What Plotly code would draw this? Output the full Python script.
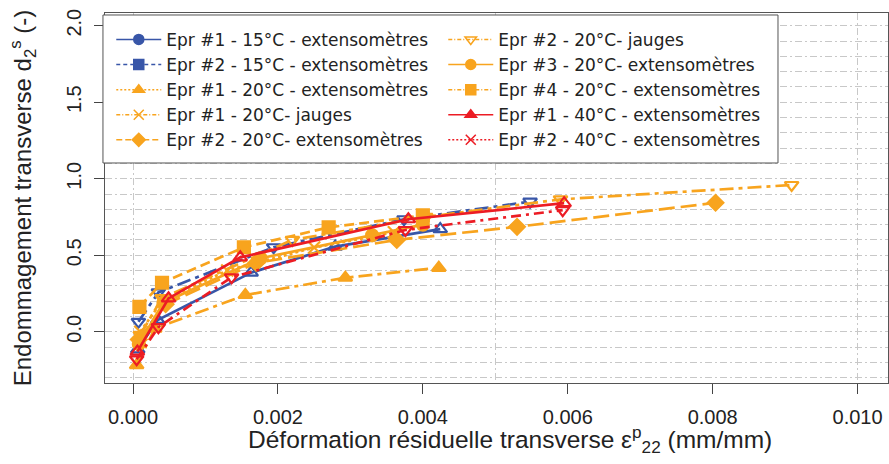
import plotly.graph_objects as go

# ---------------- data ----------------
names = [
    "Epr #1 - 15°C - extensomètres",
    "Epr #2 - 15°C - extensomètres",
    "Epr #1 - 20°C - extensomètres",
    "Epr #1 - 20°C- jauges",
    "Epr #2 - 20°C- extensomètres",
    "Epr #2 - 20°C- jauges",
    "Epr #3 - 20°C- extensomètres",
    "Epr #4 - 20°C - extensomètres",
    "Epr #1 - 40°C - extensomètres",
    "Epr #2 - 40°C - extensomètres",
]

x_15_1 = [0.000065, 0.00034, 0.00163, 0.00279, 0.00424]
y_15_1 = [-0.115, 0.077, 0.386, 0.556, 0.671]

x_15_2 = [0.000074, 0.00035, 0.00194, 0.00374, 0.00548]
y_15_2 = [0.065, 0.257, 0.552, 0.735, 0.850]

x_20_1e = [0.00005, 0.00030, 0.00155, 0.00293, 0.00422]
y_20_1e = [-0.218, 0.020, 0.240, 0.353, 0.418]

x_20_1j = [0.00010, 0.00040, 0.00130, 0.00250, 0.00360]
y_20_1j = [0.000, 0.200, 0.400, 0.550, 0.650]

x_20_2e = [0.00008, 0.00045, 0.00170, 0.00364, 0.00530, 0.00804]
y_20_2e = [-0.050, 0.180, 0.450, 0.600, 0.686, 0.843]

x_20_2j = [0.00010, 0.00040, 0.00220, 0.00404, 0.00590, 0.00909]
y_20_2j = [-0.020, 0.220, 0.600, 0.750, 0.865, 0.959]

x_20_3e = [0.00008, 0.00042, 0.00176, 0.00330, 0.00400]
y_20_3e = [-0.080, 0.190, 0.480, 0.630, 0.700]

x_20_4e = [0.000088, 0.00040, 0.00153, 0.00270, 0.00400]
y_20_4e = [0.163, 0.320, 0.552, 0.682, 0.760]

x_40_1 = [0.00006, 0.00049, 0.00148, 0.00380, 0.00595]
y_40_1 = [-0.130, 0.218, 0.486, 0.735, 0.840]

x_40_2 = [0.00005, 0.00035, 0.00136, 0.00376, 0.00593]
y_40_2 = [-0.180, 0.030, 0.356, 0.665, 0.795]

x_ticks = [0.000, 0.002, 0.004, 0.006, 0.008, 0.010]
y_ticks = [0.0, 0.5, 1.0, 1.5, 2.0]

x_title = "Déformation résiduelle transverse ε<sup>p</sup><sub>22</sub> (mm/mm)"
y_title = "Endommagement transverse d<sub>2</sub><sup>s</sup> (-)"

# ---------------- styles ----------------
BLUE = "#3856A8"
ORANGE = "#F8A41E"
RED = "#EC1C24"

xs = [x_15_1, x_15_2, x_20_1e, x_20_1j, x_20_2e, x_20_2j, x_20_3e, x_20_4e, x_40_1, x_40_2]
ys = [y_15_1, y_15_2, y_20_1e, y_20_1j, y_20_2e, y_20_2j, y_20_3e, y_20_4e, y_40_1, y_40_2]
colors = [BLUE, BLUE, ORANGE, ORANGE, ORANGE, ORANGE, ORANGE, ORANGE, RED, RED]
dashes = ["solid", "14px,5px,4px,5px", "14px,5px,4px,5px", "3px,3px", "16px,6px",
          "14px,5px,4px,5px", "solid", "10px,5px", "solid", "10px,5px,3px,5px"]
plot_symbols = ["triangle-up-open", "triangle-down-open", "triangle-up", "x-thin-open",
                "diamond", "triangle-down-open", "circle", "square",
                "triangle-up-open", "triangle-down-open"]
legend_symbols = ["circle", "square", "triangle-up", "x-thin-open", "diamond",
                  "triangle-down-open", "circle", "square", "triangle-up", "x-thin-open"]
legend_dashes = ["solid", "4px,3px", "2px,2px", "4px,2px,1px,2px", "6px,3px",
                 "4px,2px,1px,2px", "solid", "4px,2px,1px,2px", "solid", "2px,2px"]

fig = go.Figure()

for i in range(10):
    fig.add_trace(go.Scatter(
        x=xs[i], y=ys[i], mode="lines+markers", showlegend=False,
        line=dict(color=colors[i], width=2.7, dash=dashes[i]),
        marker=dict(symbol=plot_symbols[i], size=12, color=colors[i],
                    line=dict(color=colors[i], width=2.2)),
    ))

# legend entries (two columns of five, filled row by row)
order = [0, 5, 1, 6, 2, 7, 3, 8, 4, 9]
for k, i in enumerate(order):
    fig.add_trace(go.Scatter(
        x=[None], y=[None], mode="lines+markers", name=names[i], legendrank=k + 1,
        line=dict(color=colors[i], width=1.5, dash=legend_dashes[i]),
        marker=dict(symbol=legend_symbols[i], size=10, color=colors[i],
                    line=dict(color=colors[i], width=1.5)),
    ))

grid = "#c8c8c8"
font = "Liberation Sans, Arial, sans-serif"

# legend frame (white box with grey border, above the curves)
fig.add_shape(type="rect", xref="paper", yref="paper",
              x0=-0.0026, x1=0.8595, y0=0.5946, y1=0.9946,
              fillcolor="white", line=dict(color="#555", width=1), layer="above")

# x axis title
fig.add_annotation(text=x_title, xref="paper", yref="paper", x=0.517, y=-0.152,
                   xanchor="center", yanchor="middle", showarrow=False,
                   font=dict(size=24.5, color="#222"))

fig.update_layout(
    width=889, height=464,
    margin=dict(l=105, r=1, t=13, b=81),
    paper_bgcolor="white", plot_bgcolor="white",
    font=dict(family=font, color="#222", size=20),
    showlegend=True,
    legend=dict(
        orientation="h", x=0.008, y=0.976, xanchor="left", yanchor="top",
        bgcolor="rgba(0,0,0,0)", borderwidth=0,
        font=dict(family="DejaVu Sans, sans-serif", size=17, color="#222"),
        entrywidth=272, itemwidth=45, traceorder="normal",
    ),
    xaxis=dict(
        range=[-0.000387, 0.01042], tickvals=x_ticks, tickformat=".3f",
        ticks="outside", ticklen=10, tickcolor="#444", tickwidth=1,
        showline=True, mirror=True, linecolor="#555", linewidth=1,
        showgrid=False, zeroline=False, automargin=False,
        minor=dict(tickvals=[0.0, 0.005, 0.010], showgrid=True, gridcolor=grid,
                   griddash="7px,3px,2px,3px", gridwidth=1, ticks=""),
        tickfont=dict(size=20), ticklabelstandoff=6,
    ),
    yaxis=dict(
        range=[-0.335, 2.083], tickvals=y_ticks, tickformat=".1f", tickangle=-90,
        ticks="outside", ticklen=10, tickcolor="#444", tickwidth=1,
        showline=True, mirror=True, linecolor="#555", linewidth=1,
        showgrid=True, gridcolor=grid, griddash="7px,3px,2px,3px", gridwidth=1,
        zeroline=False, automargin=False,
        minor=dict(dtick=0.1, tick0=0, showgrid=True, gridcolor=grid,
                   griddash="7px,3px,2px,3px", gridwidth=1, ticks=""),
        tickfont=dict(size=20), ticklabelstandoff=5,
        title=dict(text=y_title, font=dict(size=24), standoff=24),
    ),
)

fig.write_html("out.html", config={"displayModeBar": False},
               post_script="document.body.style.margin='0';document.body.style.overflow='hidden';")
